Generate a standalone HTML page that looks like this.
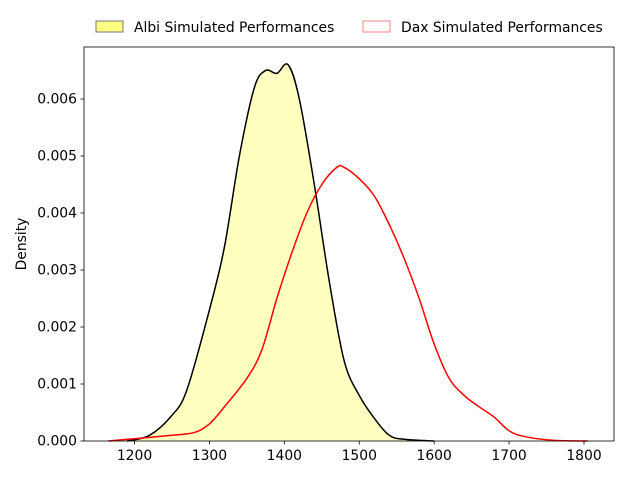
<!DOCTYPE html>
<html><head><meta charset="utf-8"><style>
body{margin:0;background:#fff;font-family:"Liberation Sans","DejaVu Sans",sans-serif}
svg text{font-family:"DejaVu Sans","Liberation Sans",sans-serif;font-size:13.9px;fill:#000}
</style></head><body>
<svg id="chart" width="640" height="480">
<g id="plot"></g>
</svg>
<script>
const xTicks=[1200,1300,1400,1500,1600,1700,1800];
const yTicks=[0,0.001,0.002,0.003,0.004,0.005,0.006];
const yTickLabels=["0.000","0.001","0.002","0.003","0.004","0.005","0.006"];
const albiX=[1190,1220,1250,1270,1300,1320,1340,1360,1375,1390,1405,1420,1440,1460,1480,1500,1520,1540,1560,1600];
const albiY=[0,0.0001,0.00045,0.0009,0.0023,0.0034,0.005,0.0062,0.0065,0.00645,0.0066,0.006,0.0045,0.0028,0.0014,0.0008,0.0004,0.0001,0.00003,0];
const daxX=[1165,1250,1280,1300,1320,1350,1370,1390,1410,1430,1450,1470,1480,1500,1520,1540,1560,1580,1600,1620,1640,1660,1680,1700,1720,1760,1805];
const daxY=[0,0.0001,0.00015,0.0003,0.0006,0.0011,0.0016,0.0025,0.0033,0.004,0.0045,0.0048,0.0048,0.0046,0.0043,0.0038,0.0032,0.0025,0.0017,0.0011,0.0008,0.0006,0.00042,0.00018,0.00008,0.00001,0];
const L=84,R=614,T=47,B=441;
const sx=v=>134.5+(v-1200)*449.5/600;
const sy=v=>B-v*57000;
const NS="http://www.w3.org/2000/svg";
const g=document.getElementById('plot');
function mk(t,a){const e=document.createElementNS(NS,t);for(const k in a)e.setAttribute(k,a[k]);g.appendChild(e);return e;}
function path(xs,ys){const p=xs.map((x,i)=>[sx(x),sy(ys[i])]);let d=`M${p[0][0]},${p[0][1]}`;
for(let i=0;i<p.length-1;i++){const p0=p[Math.max(0,i-1)],p1=p[i],p2=p[i+1],p3=p[Math.min(p.length-1,i+2)];
const c1=[p1[0]+(p2[0]-p0[0])/6,p1[1]+(p2[1]-p0[1])/6],c2=[p2[0]-(p3[0]-p1[0])/6,p2[1]-(p3[1]-p1[1])/6];
d+=`C${c1[0]},${Math.min(B,c1[1])} ${c2[0]},${Math.min(B,c2[1])} ${p2[0]},${p2[1]}`;}return d;}
const ad=path(albiX,albiY);
let e=mk('path',{d:ad+`L${sx(albiX[albiX.length-1])},${B}L${sx(albiX[0])},${B}Z`,fill:'#ffffc0',stroke:'none'});

e=mk('path',{d:ad,fill:'none',stroke:'#000','stroke-width':1.5});

e=mk('path',{d:path(daxX,daxY),fill:'none',stroke:'#ff0000','stroke-width':1.5});

e=mk('rect',{x:L,y:T,width:R-L,height:B-T,fill:'none',stroke:'#000','stroke-width':0.8});

xTicks.forEach(v=>{const x=sx(v);
let t=mk('line',{x1:x,x2:x,y1:B,y2:B+3.5,stroke:'#000','stroke-width':0.8});
t=mk('text',{x:x,y:B+19,'text-anchor':'middle'});t.textContent=v;});
yTicks.forEach((v,i)=>{const y=sy(v);
let t=mk('line',{x1:L-3.5,x2:L,y1:y,y2:y,stroke:'#000','stroke-width':0.8});
t=mk('text',{x:L-7,y:y+4.5,'text-anchor':'end'});t.textContent=yTickLabels[i];});
e=mk('text',{x:26,y:244,'text-anchor':'middle',transform:'rotate(-90 26 244)'});e.textContent='Density';

e=mk('rect',{x:96,y:21,width:27,height:11,fill:'#ffff80',stroke:'#777','stroke-width':1});

e=mk('text',{x:134,y:32});e.textContent='Albi Simulated Performances';

e=mk('rect',{x:363,y:21,width:27,height:11,fill:'#fff',stroke:'#ff8080','stroke-width':1});

e=mk('text',{x:401,y:32});e.textContent='Dax Simulated Performances';

</script>
</body></html>
